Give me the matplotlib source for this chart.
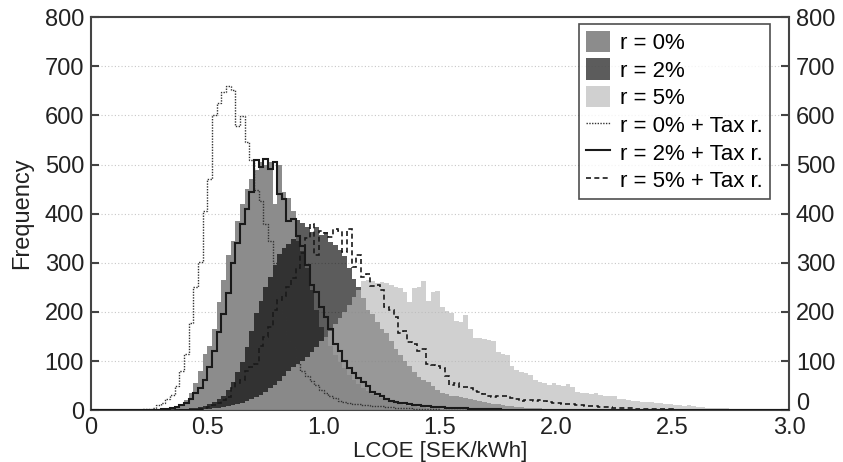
# LCOE histograms (r = 0/2/5 %, with and without tax reduction)
import numpy as np
import matplotlib
matplotlib.use('Agg')
import matplotlib.pyplot as plt
from matplotlib.patches import Patch
from matplotlib.lines import Line2D

plt.rcParams['font.family'] = ['Liberation Sans', 'DejaVu Sans']

# [1] data : bin counts, bin width 0.02 SEK/kWh, each list starts at its own left edge
bin_w = 0.02
x_max = 3.0

r0_start = 0.30
r0_counts = [1, 2, 3, 5, 10, 20, 35, 55, 80, 115, 130, 165, 220, 265, 315, 345, 385, 420, 450, 470,
             488, 505, 500, 505, 420, 500, 445, 432, 405, 345, 325, 290, 245, 205, 170, 150, 130, 112,
             98, 85, 72, 62, 54, 46, 40, 34, 29, 25, 21, 18, 15, 13, 11, 9, 8, 7, 6, 5, 4, 4, 3, 3, 2,
             2, 2, 1, 1, 1]

r2_start = 0.36
r2_counts = [1, 2, 3, 4, 5, 7, 9, 12, 16, 22, 30, 42, 58, 78, 98, 128, 162, 198, 222, 250, 272, 295,
             318, 330, 338, 348, 388, 382, 373, 362, 372, 357, 362, 343, 337, 326, 313, 290, 268, 251,
             228, 205, 195, 180, 165, 157, 140, 125, 112, 100, 90, 78, 68, 62, 58, 50, 42, 36, 34, 30,
             28, 26, 24, 22, 20, 18, 16, 15, 13, 12, 10, 9, 8, 7, 6, 5, 5, 4, 4, 3, 3, 2, 2, 2, 1, 1,
             1, 1]

r5_start = 0.46
r5_counts = [1, 2, 3, 4, 5, 7, 9, 11, 13, 15, 18, 22, 27, 32, 38, 45, 52, 60, 70, 80, 88, 95, 100,
             108, 118, 128, 140, 150, 162, 175, 188, 200, 215, 230, 245, 262, 265, 263, 258, 260, 259,
             255, 250, 248, 240, 220, 248, 250, 264, 222, 240, 242, 210, 202, 198, 182, 180, 194, 165,
             148, 147, 145, 143, 140, 118, 114, 112, 90, 82, 78, 76, 72, 62, 58, 55, 52, 55, 52, 50,
             54, 48, 38, 35, 35, 34, 36, 32, 30, 30, 28, 22, 22, 20, 18, 18, 17, 16, 17, 15, 14, 12,
             12, 11, 10, 9, 10, 8, 7, 6, 5, 5, 4, 5, 4, 3, 3, 2, 3, 2, 2, 2, 2, 1, 2, 1, 1, 1]

r0_tax_start = 0.20
r0_tax_counts = [1, 2, 3, 5, 10, 15, 22, 32, 50, 80, 115, 178, 250, 302, 405, 470, 600, 625, 648, 660,
                 652, 578, 598, 545, 510, 448, 425, 380, 345, 300, 245, 190, 140, 128, 96, 80, 70, 60,
                 52, 42, 35, 28, 24, 18, 16, 14, 13, 12, 11, 10, 9, 8, 8, 7, 6, 5, 5, 4, 4, 3, 3, 3,
                 2, 2, 2, 1, 1, 1]

r2_tax_start = 0.28
r2_tax_counts = [1, 2, 3, 4, 6, 10, 15, 22, 35, 45, 62, 88, 120, 160, 195, 238, 300, 340, 380, 410,
                 445, 510, 495, 512, 490, 505, 440, 430, 385, 390, 355, 335, 295, 255, 240, 210, 190,
                 165, 135, 120, 100, 85, 75, 65, 57, 50, 38, 33, 30, 22, 19, 17, 15, 14, 12, 10, 10,
                 9, 8, 7, 6, 6, 5, 5, 4, 4, 4, 3, 3, 3, 2, 2, 2, 2, 1, 1, 1, 1]

r5_tax_start = 0.44
r5_tax_counts = [1, 2, 4, 7, 10, 14, 20, 26, 45, 55, 62, 80, 88, 95, 130, 150, 170, 205, 225, 232,
                 250, 270, 290, 320, 350, 380, 315, 365, 360, 352, 368, 365, 322, 368, 292, 315, 272,
                 278, 252, 255, 244, 211, 205, 190, 157, 162, 139, 135, 120, 125, 95, 92, 90, 85, 70,
                 52, 56, 47, 48, 46, 40, 37, 33, 30, 27, 28, 30, 28, 25, 22, 19, 20, 20, 19, 20, 18,
                 16, 15, 14, 13, 12, 12, 10, 10, 9, 9, 8, 7, 6, 6, 5, 5, 4, 4, 4, 3, 3, 3, 2, 2, 2,
                 2, 2, 1, 1, 1, 1, 1, 1, 1, 1, 1, 1, 1, 1]

labels = ['r = 0%', 'r = 2%', 'r = 5%', 'r = 0% + Tax r.', 'r = 2% + Tax r.', 'r = 5% + Tax r.']
y_ticks = [0, 100, 200, 300, 400, 500, 600, 700, 800]
x_ticks = [0, 0.5, 1.0, 1.5, 2.0, 2.5, 3.0]
x_ticklabels = ['0', '0.5', '1.0', '1.5', '2.0', '2.5', '3.0']


def full_range(start, counts):
    # put the counts on the common 0 .. 3.0 bin grid (empty bins = 0)
    n_bins = int(round(x_max / bin_w))
    out = np.zeros(n_bins)
    i0 = int(round(start / bin_w))
    out[i0:i0 + len(counts)] = counts
    return out


all_edges = np.linspace(0, x_max, int(round(x_max / bin_w)) + 1)

# [2] figure
fig = plt.figure(figsize=(8.43, 4.62), dpi=100)
ax = fig.add_axes([0.108, 0.112, 0.828, 0.851])

# filled histograms : r0 opaque, r2 dark with alpha, r5 light with alpha on top
col_r0 = '#8c8c8c'
ax.stairs(full_range(r0_start, r0_counts), all_edges, fill=True, color=col_r0, zorder=2)
ax.stairs(full_range(r2_start, r2_counts), all_edges, fill=True, color='black', alpha=0.64, zorder=3)
ax.stairs(full_range(r5_start, r5_counts), all_edges, fill=True, color='#b8b8b8', alpha=0.656, zorder=4)

# tax reduction outlines
ax.stairs(full_range(r0_tax_start, r0_tax_counts), all_edges, color='#333333', lw=1.0,
          linestyle=(0, (1, 1)), zorder=5)
ax.stairs(full_range(r2_tax_start, r2_tax_counts), all_edges, color='#1a1a1a', lw=1.5, zorder=6)
ax.stairs(full_range(r5_tax_start, r5_tax_counts), all_edges, color='#1a1a1a', lw=1.2,
          linestyle=(0, (3, 2)), zorder=7)

# [3] axes
ax.set_xlim(0, x_max)
ax.set_ylim(0, 800)
ax.set_xticks(x_ticks)
ax.set_xticklabels(x_ticklabels)
ax.set_yticks(y_ticks)
ax.yaxis.grid(True, linestyle=(0, (1, 2)), color='#c8c8c8', lw=0.8, zorder=0)
ax.set_axisbelow(True)
ax.tick_params(axis='both', direction='in', length=6, width=1.5, color='#444444', labelsize=17,
               labelcolor='#222222')
ax.tick_params(axis='y', right=True, labelright=True, pad=5)
ax.tick_params(axis='x', length=0, pad=5)
# right-hand "0" sits a little raised, next to the "3.0" label
ax.yaxis.get_major_ticks()[0].label2.set_verticalalignment('baseline')
for sp in ax.spines.values():
    sp.set_color('#444444')
    sp.set_linewidth(1.5)
ax.set_xlabel('LCOE [SEK/kWh]', fontsize=16, color='#222222', labelpad=1)
ax.set_ylabel('Frequency', fontsize=17, color='#222222', labelpad=8)

# [4] legend
handles = [Patch(facecolor=col_r0, edgecolor='none'),
           Patch(facecolor='black', alpha=0.64, edgecolor='none'),
           Patch(facecolor='#b8b8b8', alpha=0.656, edgecolor='none'),
           Line2D([], [], color='#333333', lw=1.0, linestyle=(0, (1, 1))),
           Line2D([], [], color='#1a1a1a', lw=1.5),
           Line2D([], [], color='#1a1a1a', lw=1.2, linestyle=(0, (3, 2)))]
leg = ax.legend(handles, labels, loc='upper right', bbox_to_anchor=(0.913, 0.948),
                bbox_transform=fig.transFigure, fontsize=16, frameon=True, fancybox=False,
                borderaxespad=0, handlelength=1.1, handleheight=1.1, handletextpad=0.45,
                labelspacing=0.2, borderpad=0.3)
leg.get_frame().set_edgecolor('#222222')
leg.get_frame().set_linewidth(1.2)
leg.set_zorder(10)

fig.savefig('out.png', dpi=100)
